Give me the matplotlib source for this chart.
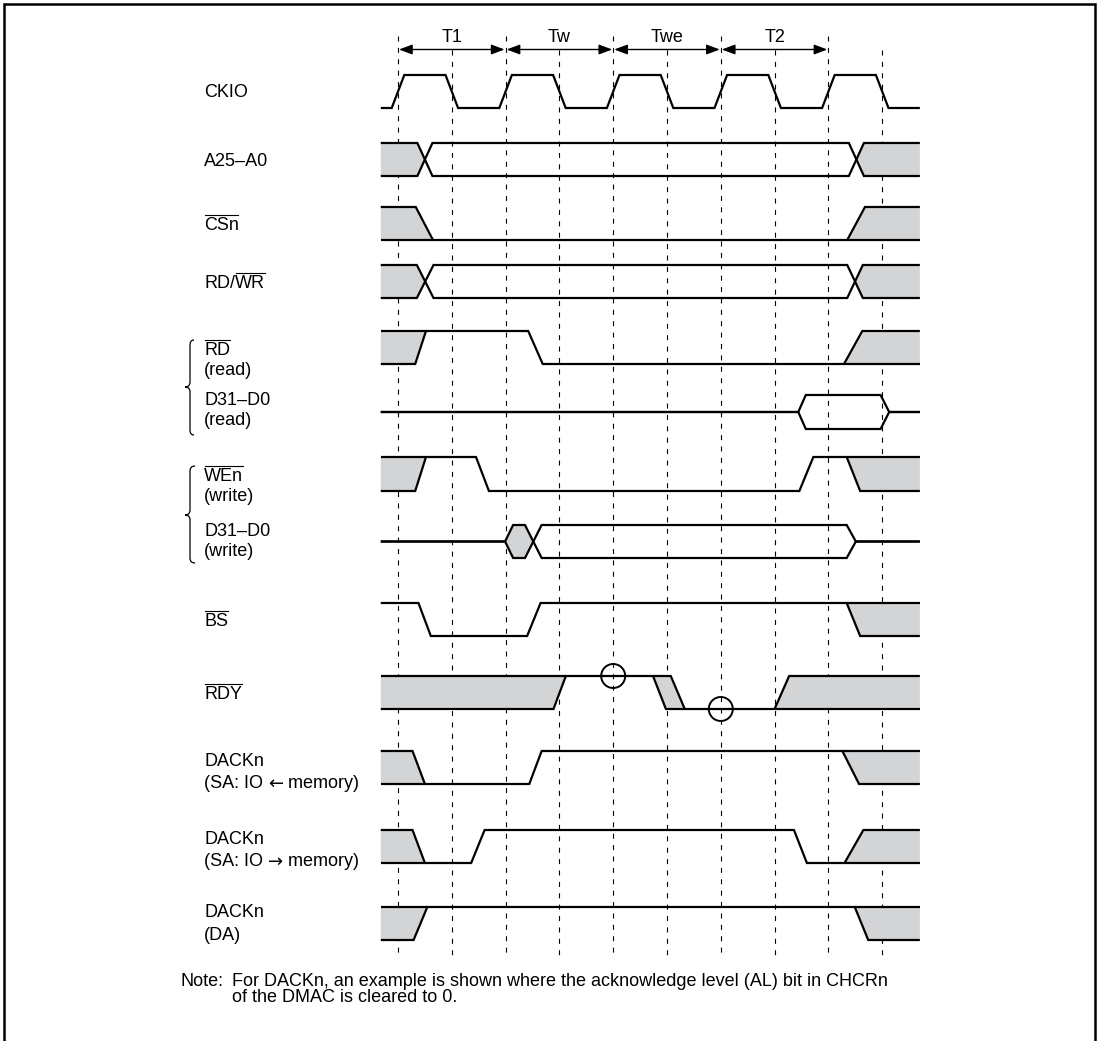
import matplotlib
matplotlib.use("Agg")
import matplotlib.pyplot as plt
from matplotlib.patches import Polygon, Circle, FancyArrowPatch, PathPatch
from matplotlib.path import Path

plt.rcParams['font.family'] = ['Liberation Sans', 'DejaVu Sans']
plt.rcParams['lines.scale_dashes'] = False

# ---------------- data (times in half-clock units, 0 = first CKIO rise) ----
period_labels = ["T1", "Tw", "Twe", "T2"]
period_bounds = [0, 2, 4, 6, 8]
grid_times = [0, 1, 2, 3, 4, 5, 6, 7, 8, 9]
ckio_edges = [0, 1, 2, 3, 4, 5, 6, 7, 8, 9]
t_begin, t_finish = -0.32, 9.70

addr_states = ['x', 'v', 'x']
addr_bounds = [(0.36, 0.64), (8.38, 8.66)]
rdwr_states = ['x', 'v', 'x']
rdwr_bounds = [(0.35, 0.66), (8.35, 8.64)]
dread_states = ['z', 'v', 'z']
dread_bounds = [(7.44, 7.58), (8.97, 9.13)]
dwrite_states = ['z', 'x', 'v', 'z']
dwrite_bounds = [(1.99, 2.14), (2.36, 2.67), (8.34, 8.51)]

cs_edges = [(0.33, 0.65), (8.35, 8.68)]
rd_edges = [(0.32, 0.52), (2.42, 2.69), (8.29, 8.63)]
we_edges = [(0.32, 0.52), (1.45, 1.69), (7.46, 7.72), (8.34, 8.59)]
bs_edges = [(0.38, 0.61), (2.40, 2.65), (8.34, 8.59)]
rdy_edges = [(2.89, 3.12), (4.74, 4.98, 5.07, 5.33), (7.00, 7.27)]
rdy_samples = [(4, 1), (6, 0)]
dack_r_edges = [(0.27, 0.50), (2.44, 2.67), (8.26, 8.57)]
dack_w_edges = [(0.27, 0.50), (1.36, 1.61), (7.36, 7.60), (8.30, 8.65)]
dack_da_edges = [(0.29, 0.545), (8.49, 8.74)]

note_head = "Note:"
note_lines = ["For DACKn, an example is shown where the acknowledge level (AL) bit in CHCRn",
              "of the DMAC is cleared to 0."]

# ---------------- layout (pixels) ----------------
W, H = 1100, 1041
X0, U = 398.0, 53.8
LW = 1.6
GRAY = '#d3d4d6'
FS = 13


def tx(t):
    return X0 + U * t


fig = plt.figure(figsize=(W / 100, H / 100), dpi=100)
ax = fig.add_axes([0, 0, 1, 1])
ax.set_xlim(0, W)
ax.set_ylim(H, 0)
ax.axis('off')
renderer = fig.canvas.get_renderer()

# border
ax.plot([4, 4, 1095, 1095], [H + 5, 4, 4, H + 5], color='k', lw=1.8, zorder=5,
        solid_joinstyle='miter')

# dashed grid
for k in grid_times:
    top = 36 if k in period_bounds else 50
    ax.plot([tx(k), tx(k)], [top, 957], color='k', lw=0.8, dashes=(3.6, 4.6), zorder=1)

# period arrows and labels
for i, lab in enumerate(period_labels):
    a, b = period_bounds[i], period_bounds[i + 1]
    arr = FancyArrowPatch((tx(a) + 1, 49.5), (tx(b) - 1, 49.5),
                          arrowstyle='<|-|>,head_length=0.8,head_width=0.3',
                          mutation_scale=10, lw=1.0, color='k', shrinkA=0, shrinkB=0, zorder=4)
    ax.add_patch(arr)
    ax.text(tx((a + b) / 2), 38, lab, fontsize=FS, ha='center', va='center')


def line(pts, y_of, **kw):
    ax.plot([tx(p[0]) for p in pts], [y_of(p[1]) for p in pts], color='k', lw=LW,
            zorder=3, solid_joinstyle='miter', solid_capstyle='butt', **kw)


def gray(pts, y_of):
    ax.add_patch(Polygon([(tx(p[0]), y_of(p[1])) for p in pts], closed=True,
                         facecolor=GRAY, edgecolor='none', zorder=2))


def level_signal(edges, init, y_top, y_bot, gray_start=False, gray_end=False):
    def y_of(l):
        return y_top if l == 1 else y_bot
    lvl = init
    pts = [(t_begin, lvl)]
    for i, e in enumerate(edges):
        new = 1 - lvl
        if len(e) == 4:
            ta, tb, ta2, tb2 = e
            gray([(ta, lvl), (ta2, lvl), (tb2, new), (tb, new)], y_of)
            line([(ta, lvl), (tb, new), (tb2, new)], y_of)
            ta, tb = ta2, tb2
        else:
            ta, tb = e
        pts += [(ta, lvl), (tb, new)]
        if i == 0 and gray_start:
            gray([(t_begin, lvl), (ta, lvl), (tb, new), (t_begin, new)], y_of)
            line([(t_begin, new), (tb, new)], y_of)
        if i == len(edges) - 1 and gray_end:
            gray([(ta, lvl), (tb, new), (t_finish, new), (t_finish, lvl)], y_of)
            line([(ta, lvl), (t_finish, lvl)], y_of)
        lvl = new
    pts.append((t_finish, lvl))
    line(pts, y_of)


def bus_signal(states, bounds, y_top, y_bot):
    mid = (y_top + y_bot) / 2

    def y_of(v):
        return v
    if states[0] == 'z':
        a = b = mid
    else:
        a, b = y_top, y_bot
    A = [(t_begin, a)]
    B = [(t_begin, b)]
    for s1, s2, (ta, tb) in zip(states[:-1], states[1:], bounds):
        A.append((ta, a))
        B.append((ta, b))
        if s2 == 'z':
            na = nb = mid
        elif s1 == 'z':
            na, nb = y_top, y_bot
        else:
            na, nb = b, a
        A.append((tb, na))
        B.append((tb, nb))
        a, b = na, nb
    A.append((t_finish, a))
    B.append((t_finish, b))
    for i, s in enumerate(states):
        if s != 'x':
            continue
        if i == 0:
            left = [(t_begin, y_bot), (t_begin, y_top)]
            lt = t_begin
        else:
            ta, tb = bounds[i - 1]
            left = [(ta, mid)] if states[i - 1] == 'z' else [((ta + tb) / 2, mid)]
            lt = tb
        if i == len(states) - 1:
            right = [(t_finish, y_top), (t_finish, y_bot)]
            rt = t_finish
        else:
            ta, tb = bounds[i]
            right = [(tb, mid)] if states[i + 1] == 'z' else [((ta + tb) / 2, mid)]
            rt = ta
        gray(left + [(lt, y_top), (rt, y_top)] + right + [(rt, y_bot), (lt, y_bot)], y_of)
    line(A, y_of)
    line(B, y_of)


def label(yc, chunks, x=204):
    cap = 0.716 * FS * 100 / 72
    base = yc + cap / 2
    cx = x
    for chunk in chunks:
        txt, ov = chunk[0], chunk[1]
        kw = {}
        if len(chunk) > 2:
            kw['family'] = chunk[2]
        t = ax.text(cx, base, txt, fontsize=FS, ha='left', va='baseline', **kw)
        w = t.get_window_extent(renderer).width
        if ov:
            ax.plot([cx + 0.5, cx + w - 0.5], [base - cap - 2.5] * 2, color='k', lw=0.8)
        cx += w


# CKIO
ck_top, ck_bot = 75, 108
ck = [(t_begin, 0)]
lv = 0
for e in ckio_edges:
    ck += [(e - 0.117, lv), (e + 0.117, 1 - lv)]
    lv = 1 - lv
ck.append((t_finish, lv))
line(ck, lambda l: ck_top if l == 1 else ck_bot)
label(91, [("CKIO", False)])

bus_signal(addr_states, addr_bounds, 143, 176)
label(160, [("A25\u2013A0", False)])

level_signal(cs_edges, 1, 207, 240, True, True)
label(224, [("CSn", True)])

bus_signal(rdwr_states, rdwr_bounds, 265, 298)
label(282, [("RD/", False), ("WR", True)])

level_signal(rd_edges, 0, 331, 364, True, True)
label(349, [("RD", True)])
label(369, [("(read)", False)])

bus_signal(dread_states, dread_bounds, 395, 429)
label(399, [("D31\u2013D0", False)])
label(419, [("(read)", False)])

level_signal(we_edges, 0, 457, 491, True, True)
label(475, [("WEn", True)])
label(495, [("(write)", False)])

bus_signal(dwrite_states, dwrite_bounds, 525, 558)
label(530, [("D31\u2013D0", False)])
label(550, [("(write)", False)])

level_signal(bs_edges, 1, 603, 636, False, True)
label(620, [("BS", True)])

level_signal(rdy_edges, 0, 676, 709, True, True)
label(693, [("RDY", True)])
for (ts, lv_) in rdy_samples:
    ax.add_patch(Circle((tx(ts), 676 if lv_ == 1 else 709), 12, fill=False,
                        edgecolor='k', lw=1.4, zorder=4))

level_signal(dack_r_edges, 1, 751, 784, True, True)
label(760, [("DACKn", False)])
label(782, [("(SA: IO ", False), ("\u2190", False, 'DejaVu Sans'), (" memory)", False)])

level_signal(dack_w_edges, 1, 830, 863, True, True)
label(838, [("DACKn", False)])
label(860, [("(SA: IO ", False), ("\u2192", False, 'DejaVu Sans'), (" memory)", False)])

level_signal(dack_da_edges, 0, 907, 940, True, True)
label(911, [("DACKn", False)])
label(934, [("(DA)", False)])


# braces
def brace(x_end, x_mid, x_tip, y0, ym, y1):
    r = 5
    verts = [(x_end, y0), (x_mid, y0), (x_mid, y0 + r),
             (x_mid, ym - r),
             (x_mid, ym), (x_tip, ym),
             (x_mid, ym), (x_mid, ym + r),
             (x_mid, y1 - r),
             (x_mid, y1), (x_end, y1)]
    codes = [Path.MOVETO, Path.CURVE3, Path.CURVE3, Path.LINETO,
             Path.CURVE3, Path.CURVE3, Path.CURVE3, Path.CURVE3,
             Path.LINETO, Path.CURVE3, Path.CURVE3]
    ax.add_patch(PathPatch(Path(verts, codes), fill=False, lw=0.9, edgecolor='k'))


brace(194, 190, 185, 340, 387, 435)
brace(195, 190, 185, 466, 515, 563)

# note
ax.text(180, 982, note_head, fontsize=FS, ha='left', va='center')
ax.text(232, 982, note_lines[0], fontsize=FS, ha='left', va='center')
ax.text(232, 997, note_lines[1], fontsize=FS, ha='left', va='center')

fig.savefig("out.png", dpi=100)
